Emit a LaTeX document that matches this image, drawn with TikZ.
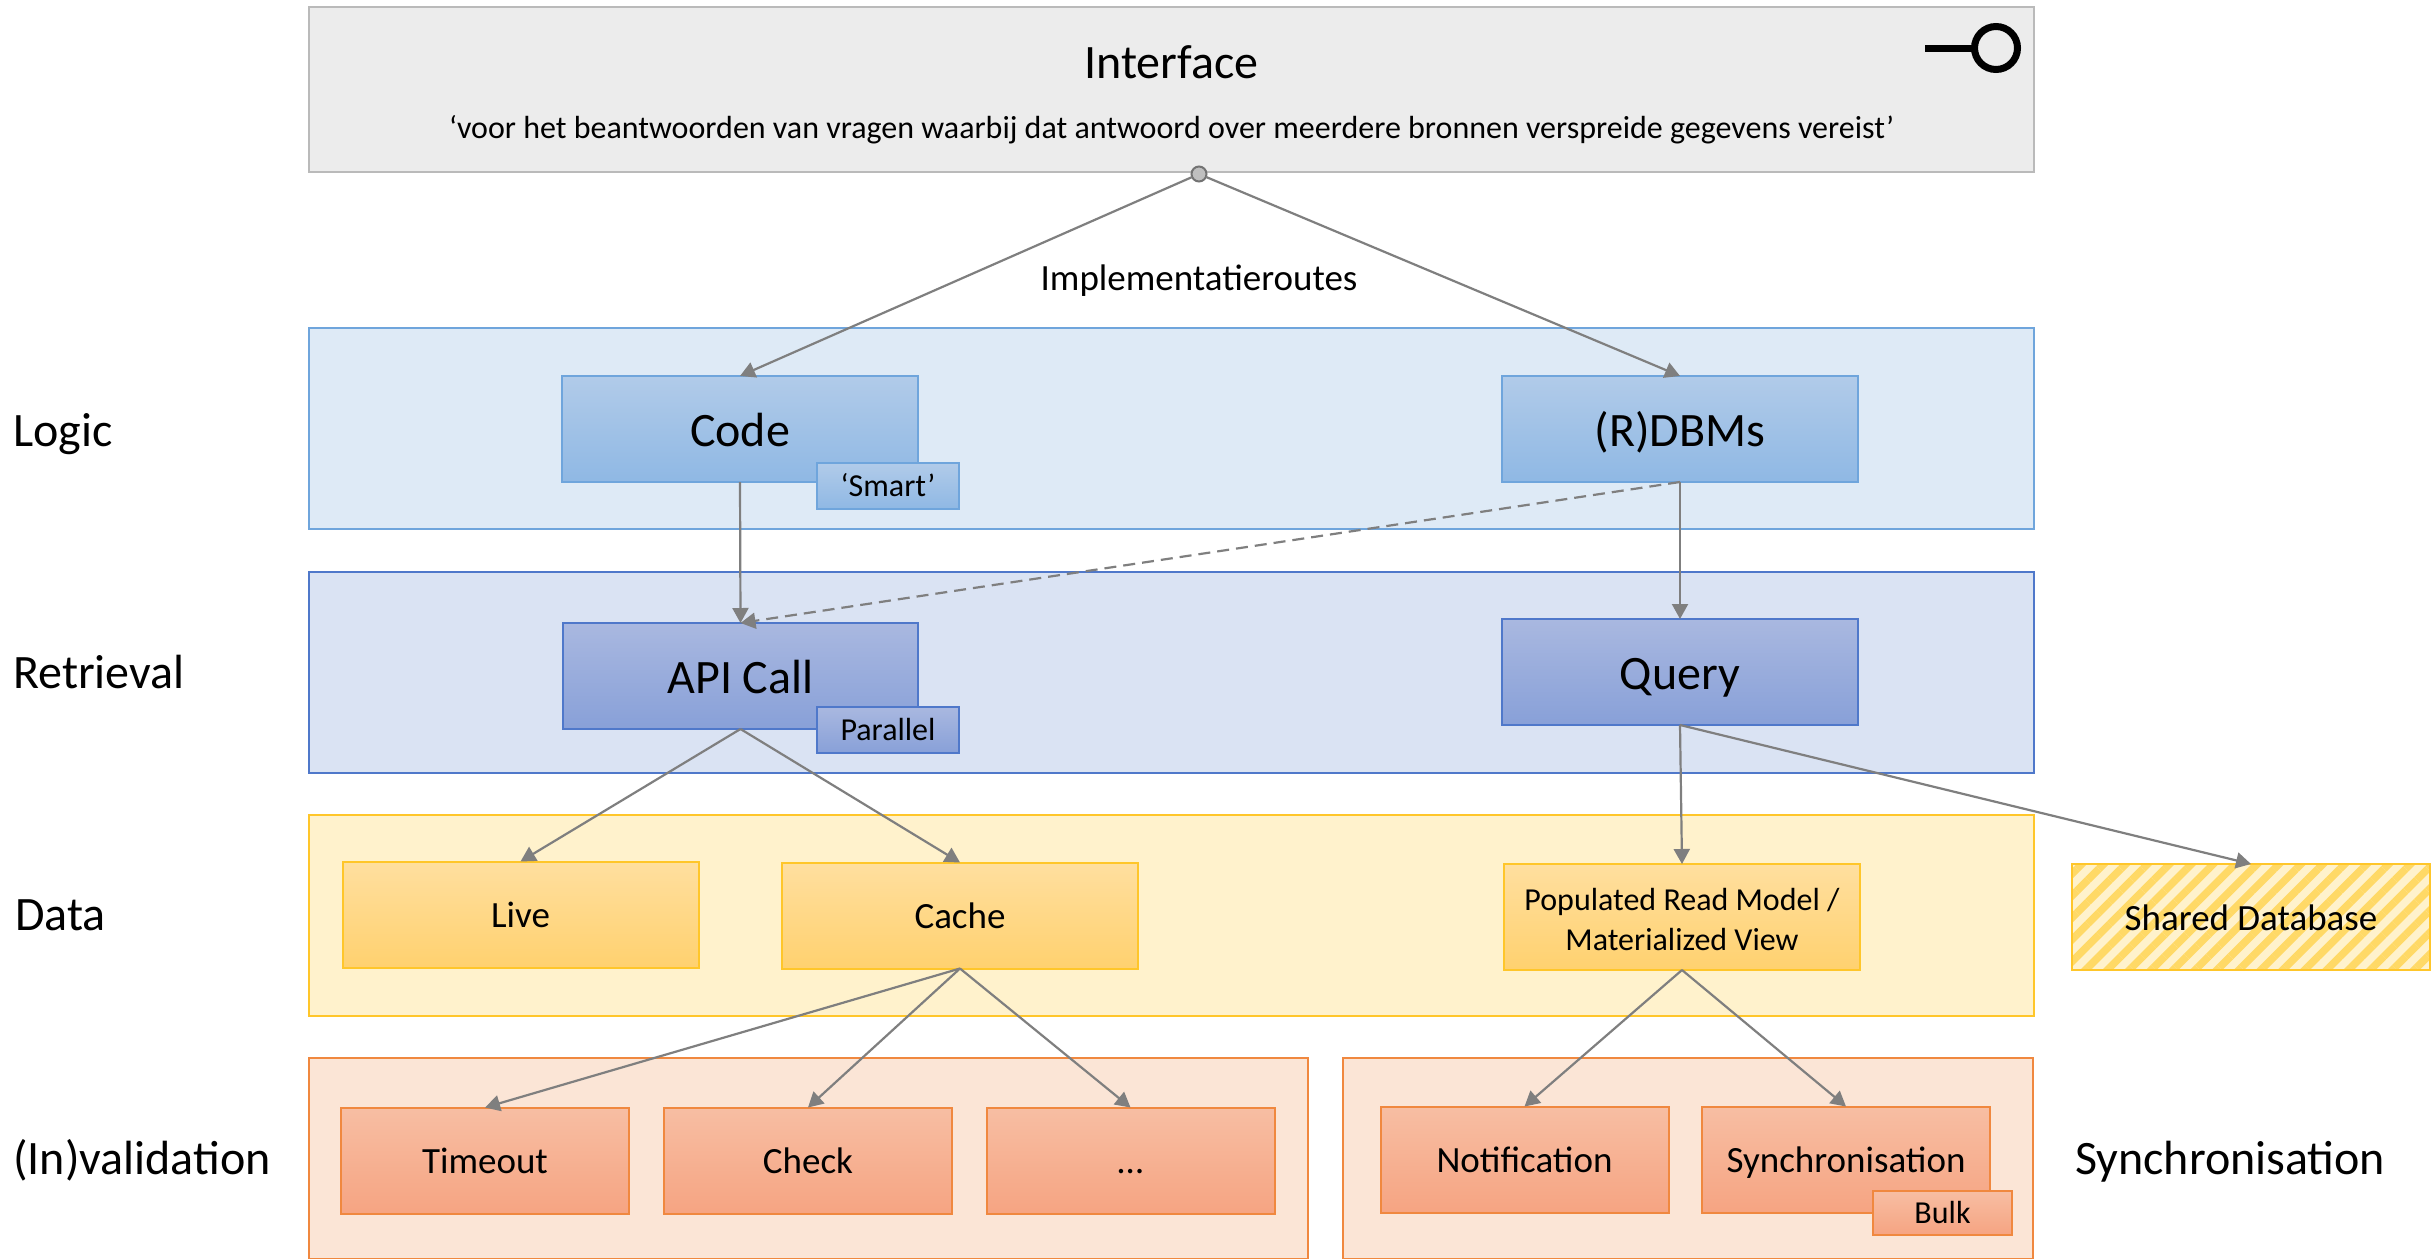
\documentclass[tikz,border=0pt]{standalone}
\usepackage{fontspec}
\setmainfont{Carlito}
\usetikzlibrary{arrows.meta,patterns.meta}
\definecolor{conn}{HTML}{7F7F7F}
\definecolor{edgeB}{HTML}{6FA5DC}
\definecolor{edgeN}{HTML}{4F78CA}
\definecolor{edgeG}{HTML}{FFC62A}
\definecolor{edgeR}{HTML}{F0883F}
\definecolor{cTopB}{HTML}{B1CBE9}
\definecolor{cBotB}{HTML}{8FB8E4}
\definecolor{cTopN}{HTML}{A9B8E0}
\definecolor{cBotN}{HTML}{88A0D8}
\definecolor{cTopG}{HTML}{FFDF9F}
\definecolor{cBotG}{HTML}{FFD16F}
\definecolor{cTopR}{HTML}{F7BEA3}
\definecolor{cBotR}{HTML}{F6A482}
\definecolor{bandB}{HTML}{DEEAF6}
\definecolor{bandN}{HTML}{DAE3F3}
\definecolor{bandG}{HTML}{FFF2CC}
\definecolor{bandR}{HTML}{FBE5D6}
\definecolor{stripe}{HTML}{FFD966}
\tikzset{
  x=1pt,y=-1pt,
  base/.style={inner sep=0pt,outer sep=0pt,line width=2pt,align=center,text=black},
  band/.style={base,minimum height=201pt},
  bigbox/.style={base,minimum width=356pt,minimum height=106pt},
  midbox/.style={base,minimum width=288pt,minimum height=106pt},
  blue/.style={draw=edgeB,top color=cTopB,bottom color=cBotB},
  navy/.style={draw=edgeN,top color=cTopN,bottom color=cBotN},
  gold/.style={draw=edgeG,top color=cTopG,bottom color=cBotG},
  rust/.style={draw=edgeR,top color=cTopR,bottom color=cBotR},
  big/.style={font=\fontsize{48}{56}\selectfont,text height=36pt,text depth=2pt},
  lbl/.style={big,inner sep=0pt,anchor=west},
  med/.style={font=\fontsize{37}{46}\selectfont,text height=28pt,text depth=2pt},
  small/.style={font=\fontsize{32}{38}\selectfont,text height=23pt,text depth=2pt},
  conline/.style={draw=conn,line width=2.2pt,-{Triangle[length=15pt,width=16pt,fill=conn]}},
}
\begin{document}
\begin{tikzpicture}
\useasboundingbox (0,0) rectangle (2432,1258);
% interface
\node[base,draw=black!27,fill=black!7.5,minimum width=1725pt,minimum height=165pt] (iface) at (1171.5,89.5) {};
\node[inner sep=0pt,big] (ifacetitle) at (1171.5,61) {Interface};
\node[inner sep=0pt,small] (ifacetext) at (1171.5,128) {‘voor het beantwoorden van vragen waarbij dat antwoord over meerdere bronnen verspreide gegevens vereist’};
\node[circle,minimum size=43pt,inner sep=0pt,outer sep=0pt,draw=black,line width=7pt] (lolli) at (1996,48) {};
\coordinate (lollistart) at (1925,48);
\draw[black,line width=7pt] (lollistart) -- (lolli.west);
% bands
\node[band,draw=edgeB,fill=bandB,minimum width=1725pt] (logicband) at (1171.5,428.5) {};
\node[band,draw=edgeN,fill=bandN,minimum width=1725pt] (retrband) at (1171.5,672) {};
\node[band,draw=edgeG,fill=bandG,minimum width=1725pt] (databand) at (1171.5,915) {};
\node[band,draw=edgeR,fill=bandR,minimum width=999pt] (invband) at (808.5,1158) {};
\node[band,draw=edgeR,fill=bandR,minimum width=690pt] (syncband) at (1687.5,1158) {};
% row labels
\node[lbl] (llogic) at (13,429) {Logic};
\node[lbl] (lretr) at (13,671) {Retrieval};
\node[lbl] (ldata) at (15,913) {Data};
\node[lbl] (linv) at (13,1157) {(In)validation};
\node[lbl] (lsync) at (2075,1157) {Synchronisation};
\node[inner sep=0pt,med] (routes) at (1199,277) {Implementatieroutes};
% logic
\node[bigbox,blue,big] (code) at (740,429) {Code};
\node[base,blue,small,minimum width=142pt,minimum height=46pt] (smart) at (888,486) {‘Smart’};
\node[bigbox,blue,big] (rdbms) at (1680,429) {(R)DBMs};
% retrieval
\node[bigbox,navy,big,minimum width=355pt] (api) at (740.5,676) {API Call};
\node[base,navy,small,minimum width=142pt,minimum height=46pt] (parallel) at (888,730) {Parallel};
\node[bigbox,navy,big] (query) at (1680,672) {Query};
% data
\node[bigbox,gold,med] (live) at (520.5,914.5) {Live};
\node[bigbox,gold,med] (cache) at (960,915.5) {Cache};
\node[bigbox,gold,font=\fontsize{32}{40}\selectfont] (model) at (1682,917) {\rule{0pt}{27pt}Populated Read Model /\\Materialized View};
\node[base,draw=edgeG,fill=bandG,minimum width=358pt,minimum height=106pt] (shared) at (2251,917) {};
\fill[pattern={Lines[angle=45,distance=15.5pt,line width=7.5pt]},pattern color=stripe] (shared.south west) rectangle (shared.north east);
\draw[edgeG,line width=2pt] (shared.south west) rectangle (shared.north east);
\node[inner sep=0pt,med] (sharedtext) at (2251,917) {Shared Database};
% invalidation
\node[midbox,rust,med] (timeout) at (485,1160.5) {Timeout};
\node[midbox,rust,med] (check) at (808,1160.5) {Check};
\node[midbox,rust,med] (etc) at (1130.5,1160.5) {…};
\node[midbox,rust,med] (notif) at (1524.5,1159.5) {Notification};
\node[midbox,rust,med] (syncbox) at (1846,1159.5) {Synchronisation};
\node[base,rust,small,minimum width=139pt,minimum height=44pt] (bulk) at (1942.5,1212.5) {Bulk};
% connectors
\node[circle,draw=black!55,fill=black!25,line width=2pt,minimum size=15pt,inner sep=0pt,outer sep=0pt] (dot) at (1199,174) {};
\draw[conline] (dot) -- (code.north);
\draw[conline] (dot) -- (rdbms.north);
\draw[conline] (code.south) -- (api.north);
\draw[conline,dash pattern=on 12pt off 7pt] (rdbms.south) -- (api.north);
\draw[conline] (rdbms.south) -- (query.north);
\draw[conline] (api.south) -- (live.north);
\draw[conline] (api.south) -- (cache.north);
\draw[conline] (query.south) -- (model.north);
\draw[conline] (query.south) -- (shared.north);
\draw[conline] (cache.south) -- (timeout.north);
\draw[conline] (cache.south) -- (check.north);
\draw[conline] (cache.south) -- (etc.north);
\draw[conline] (model.south) -- (notif.north);
\draw[conline] (model.south) -- (syncbox.north);
\end{tikzpicture}
\end{document}
